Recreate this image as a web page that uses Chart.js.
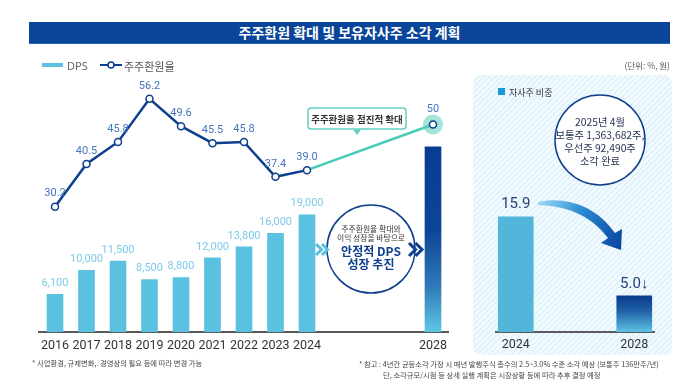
<!DOCTYPE html>
<html>
<head>
<meta charset="utf-8">
<script src="https://cdn.jsdelivr.net/npm/chart.js@4.4.1/dist/chart.umd.min.js"></script>
<style>
  body { margin: 0; background: #fff; font-family: "Noto Sans CJK KR", "Noto Sans", sans-serif; }
  #wrap { position: relative; width: 700px; height: 387px; overflow: hidden; }
  .abs { position: absolute; white-space: nowrap; }
  .mid { transform: translate(-50%, -50%); text-align: center; }
  #title { left: 29px; top: 22px; width: 641px; height: 21px; background: #0a4599; border-bottom: 1px solid #2a63b5;
           color: #fff; font-weight: bold; font-size: 14px; line-height: 21px; text-align: center; }
  #panel { left: 473px; top: 75px; width: 199px; height: 280px; border-radius: 8px;
           background: repeating-linear-gradient(135deg, #e2f3fb 0 2px, #f4fbfe 2px 4px); }
  canvas { position: absolute; }
  svg { position: absolute; left: 0; top: 0; }
  .note { font-size: 7.3px; color: #444; }
</style>
</head>
<body>
<div id="wrap">
  <div id="title" class="abs">주주환원 확대 및 보유자사주 소각 계획</div>
  <div id="panel" class="abs"></div>

  <canvas id="mainChart" width="470" height="387" style="left:0;top:0"></canvas>
  <canvas id="shareChart" width="199" height="280" style="left:473px;top:75px"></canvas>

  <svg width="700" height="387">
    <defs>
      <linearGradient id="arrowGrad" x1="538" y1="203" x2="622" y2="245" gradientUnits="userSpaceOnUse">
        <stop offset="0" stop-color="#9adcf5"/>
        <stop offset="0.45" stop-color="#2b8ad3"/>
        <stop offset="1" stop-color="#0a45a0"/>
      </linearGradient>
    </defs>
    <!-- legend icons -->
    <rect x="42" y="63" width="21" height="4" fill="#5ac2e0"/>
    <line x1="100" y1="65" x2="122" y2="65" stroke="#0c3f8f" stroke-width="2"/>
    <circle cx="111" cy="65" r="3" fill="#fff" stroke="#0c3f8f" stroke-width="1.5"/>
    <!-- callout -->
    <rect x="308" y="108" width="98" height="21" rx="3" fill="#fff" stroke="#62d0c0" stroke-width="1.5"/>
    <path d="M353,129.5 L361,129.5 L357,135 Z" fill="#62d0c0"/>
    <!-- middle circle -->
    <circle cx="371" cy="249" r="44" fill="#fff" stroke="#0d3f8e" stroke-width="1.5"/>
    <polyline points="316,244 321.5,249.5 316,255" fill="none" stroke="#5bc0de" stroke-width="3"/>
    <polyline points="322,244 327.5,249.5 322,255" fill="none" stroke="#5bc0de" stroke-width="3"/>
    <polyline points="409,243 415.5,249.5 409,256" fill="none" stroke="#0d3f8e" stroke-width="3"/>
    <polyline points="415.5,243 422,249.5 415.5,256" fill="none" stroke="#0d3f8e" stroke-width="3"/>
    <!-- right panel -->
    <rect x="498" y="88" width="7" height="7" fill="#1a98d5"/>
    <circle cx="600" cy="140" r="45" fill="#fff" stroke="#0d3f8e" stroke-width="1.5"/>
    <path d="M538,202 C566,196 596,206 615,233 L622,229 L621,250 L601,243 L608,238 C590,214 565,206 538,205 Z" fill="url(#arrowGrad)"/>
  </svg>

  <div class="abs" style="left:67px;top:58px;font-size:11px;color:#666;font-family:'Noto Sans',sans-serif">DPS</div>
  <div class="abs" style="left:124px;top:58px;font-size:11px;color:#555">주주환원율</div>
  <div class="abs" style="right:30px;top:59px;font-size:8.5px;color:#555">(단위: %, 원)</div>

  <div class="abs mid" style="left:357px;top:118.5px;font-size:9.5px;color:#333;font-weight:bold">주주환원율 점진적 확대</div>

  <div class="abs mid" style="left:371px;top:248px;line-height:1.2">
    <div style="font-size:7.8px;color:#333">주주환원율 확대와</div>
    <div style="font-size:7.8px;color:#333">이익 성장을 바탕으로</div>
    <div style="font-size:12px;color:#0d3f8e;font-weight:bold;line-height:1.15;margin-top:1px">안정적 DPS</div>
    <div style="font-size:12px;color:#0d3f8e;font-weight:bold;line-height:1.15">성장 추진</div>
  </div>

  <div class="abs" style="left:509px;top:86px;font-size:9px;color:#333">자사주 비중</div>
  <div class="abs mid" style="left:600px;top:141px;font-size:10.3px;color:#1f2d4d;line-height:13px">
    2025년 4월<br>보통주 1,363,682주,<br>우선주 92,490주<br>소각 완료
  </div>

  <div class="abs note" style="left:32px;top:358px">* 사업환경, 규제변화,. 경영상의 필요 등에 따라 변경 가능</div>
  <div class="abs note" style="left:359px;top:359px">* 참고 : 4년간 균등소각 가정 시 매년 발행주식 총수의 2.5~3.0% 수준 소각 예상 (보통주 136만주/년)</div>
  <div class="abs note" style="left:383px;top:370px">단, 소각규모/시점 등 상세 실행 계획은 시장상황 등에 따라 추후 결정 예정</div>
</div>

<script>
// left chart: DPS (won) and shareholder return ratio (%)
const years = ['2016', '2017', '2018', '2019', '2020', '2021', '2022', '2023', '2024', '', '', '', '2028'];
const dpsValues = [6100, 10000, 11500, 8500, 8800, 12000, 13800, 16000, 19000, null, null, null, 30000];
const returnRates = [30.2, 40.5, 45.8, 56.2, 49.6, 45.5, 45.8, 37.4, 39.0, null, null, null, 50];

// right chart: treasury share weight (%)
const shareYears = ['2024', '', '', '2028'];
const shareValues = [15.9, null, null, 5.0];

const NAVY = '#0c3f8f';
const SKY = '#5ac2e0';
const MINT = '#45cdb7';
const numFont = 'Roboto, "Noto Sans", sans-serif';

const lastIdx = years.length - 1;

// gradient spanning only the bar (value down to zero), built on the chart area
function barGradient(chart, value, max, stops) {
    const area = chart.chartArea;
    if (!area) return stops[0][1];
    const g = chart.ctx.createLinearGradient(0, area.top, 0, area.bottom);
    const f = 1 - value / max;
    stops.forEach(s => g.addColorStop(f + s[0] * (1 - f), s[1]));
    return g;
}

const DPS_MAX = 43700;
const RATE_MAX = 65;
const SHARE_MAX = 32;

const mainLabels = {
    id: 'mainLabels',
    beforeDatasetsDraw(chart) {
        // halo behind the 2028 target point
        const pt = chart.getDatasetMeta(1).data[lastIdx];
        const ctx = chart.ctx;
        ctx.save();
        ctx.fillStyle = '#a6e3d9';
        ctx.beginPath();
        ctx.arc(pt.x, pt.y, 10, 0, Math.PI * 2);
        ctx.fill();
        ctx.restore();
    },
    afterDatasetsDraw(chart) {
        const ctx = chart.ctx;
        ctx.save();
        ctx.textAlign = 'center';
        ctx.textBaseline = 'middle';
        ctx.font = '11px ' + numFont;

        ctx.fillStyle = '#7ccae8';
        chart.getDatasetMeta(0).data.forEach((bar, i) => {
            // the 2028 bar carries no number in the original
            if (dpsValues[i] == null || i === lastIdx) return;
            ctx.fillText(dpsValues[i].toLocaleString('en-US'), bar.x, bar.y - 11);
        });

        ctx.fillStyle = '#4674bd';
        chart.getDatasetMeta(1).data.forEach((pt, i) => {
            const v = returnRates[i];
            if (v == null) return;
            const txt = i === lastIdx ? String(v) : v.toFixed(1);
            ctx.fillText(txt, pt.x, pt.y - (i === lastIdx ? 15 : 13));
        });
        ctx.restore();
    }
};

new Chart(document.getElementById('mainChart'), {
    type: 'bar',
    data: {
        labels: years,
        datasets: [{
            label: 'DPS',
            data: dpsValues,
            yAxisID: 'y',
            order: 1,
            barThickness: 16,
            backgroundColor: (c) => c.dataIndex === lastIdx
                ? barGradient(c.chart, dpsValues[lastIdx], DPS_MAX,
                    [[0, '#083d92'], [0.45, '#0d4596'], [0.75, '#2f79b8'], [1, '#5ec6e4']])
                : SKY
        }, {
            type: 'line',
            label: '주주환원율',
            data: returnRates,
            yAxisID: 'y2',
            order: 0,
            spanGaps: true,
            borderWidth: 2.5,
            borderColor: NAVY,
            segment: {
                borderColor: (c) => c.p1DataIndex === lastIdx ? MINT : NAVY
            },
            pointRadius: 3.5,
            pointBorderWidth: 1.5,
            pointBackgroundColor: '#fff',
            pointBorderColor: NAVY
        }]
    },
    options: {
        responsive: false,
        animation: false,
        layout: { padding: { left: 39.25, right: 21.25, top: 62.25, bottom: 0 } },
        plugins: { legend: { display: false }, tooltip: { enabled: false } },
        scales: {
            x: {
                grid: { display: false, drawTicks: false },
                border: { display: true, color: '#5a5a5a', width: 2 },
                ticks: { color: '#333', font: { size: 12.5, family: numFont }, padding: 6, autoSkip: false, maxRotation: 0 },
                afterFit: (s) => { s.height = 55; }
            },
            y: { display: false, min: 0, max: DPS_MAX },
            y2: { display: false, min: 0, max: RATE_MAX }
        }
    },
    plugins: [mainLabels]
});

const shareLabels = {
    id: 'shareLabels',
    afterDatasetsDraw(chart) {
        const ctx = chart.ctx;
        ctx.save();
        ctx.textAlign = 'center';
        ctx.textBaseline = 'middle';
        ctx.font = '15px ' + numFont;
        ctx.fillStyle = '#23407a';
        const last = shareValues.length - 1;
        chart.getDatasetMeta(0).data.forEach((bar, i) => {
            const v = shareValues[i];
            if (v == null) return;
            ctx.fillText(v.toFixed(1) + (i === last ? '↓' : ''), bar.x, bar.y - 12);
        });
        ctx.restore();
    }
};

new Chart(document.getElementById('shareChart'), {
    type: 'bar',
    data: {
        labels: shareYears,
        datasets: [{
            label: '자사주 비중',
            data: shareValues,
            barThickness: 35,
            backgroundColor: (c) => c.dataIndex === shareValues.length - 1
                ? barGradient(c.chart, shareValues[c.dataIndex], SHARE_MAX,
                    [[0, '#0b3b8c'], [0.4, '#1f5fa6'], [1, '#5bc3e4']])
                : '#52b6da'
        }]
    },
    options: {
        responsive: false,
        animation: false,
        layout: { padding: { left: 23, right: 18, top: 25, bottom: 0 } },
        plugins: { legend: { display: false }, tooltip: { enabled: false } },
        scales: {
            x: {
                grid: { display: false, drawTicks: false },
                border: { display: true, color: '#5a5a5a', width: 2 },
                ticks: { color: '#333', font: { size: 12.5, family: numFont }, padding: 5, autoSkip: false, maxRotation: 0 },
                afterFit: (s) => { s.height = 23; }
            },
            y: { display: false, min: 0, max: SHARE_MAX }
        }
    },
    plugins: [shareLabels]
});
</script>
</body>
</html>
